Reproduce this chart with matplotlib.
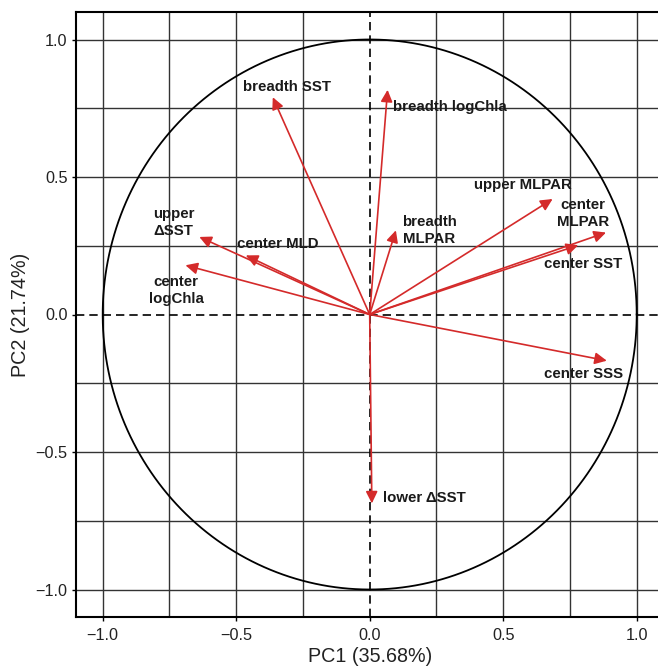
import matplotlib
matplotlib.use("Agg")
import matplotlib.pyplot as plt
import numpy as np

plt.rcParams['font.family'] = ['Liberation Sans', 'DejaVu Sans']

# Variable loadings (PC1, PC2)
variables = ["breadth SST", "breadth logChla", "upper MLPAR", "center MLPAR",
             "center SST", "breadth MLPAR", "upper ΔSST", "center MLD",
             "center logChla", "center SSS", "lower ΔSST"]
pc1 = [-0.363, 0.067, 0.685, 0.885, 0.781, 0.098, -0.638, -0.464, -0.690, 0.888, 0.008]
pc2 = [0.790, 0.817, 0.420, 0.298, 0.252, 0.306, 0.282, 0.215, 0.179, -0.168, -0.687]

# Label text and label anchor positions (data coords)
labels = ["breadth SST", "breadth logChla", "upper MLPAR", "center\nMLPAR",
          "center SST", "breadth\nMLPAR", "upper\nΔSST", "center MLD",
          "center\nlogChla", "center SSS", "lower ΔSST"]
lab_x = [-0.31, 0.30, 0.575, 0.80, 0.80, 0.223, -0.735, -0.346, -0.725, 0.80, 0.203]
lab_y = [0.826, 0.753, 0.470, 0.367, 0.185, 0.306, 0.336, 0.258, 0.088, -0.217, -0.666]

x_label = "PC1 (35.68%)"
y_label = "PC2 (21.74%)"
ticks = [-1.0, -0.5, 0.0, 0.5, 1.0]
tick_labels = ["\u22121.0", "\u22120.5", "0.0", "0.5", "1.0"]
grid_vals = [-1.0, -0.75, -0.5, -0.25, 0.25, 0.5, 0.75, 1.0]

fig = plt.figure(figsize=(6.58, 6.66), dpi=100)
ax = fig.add_axes([76/658, 49/666, 587.4/658, 605/666])
ax.set_xlim(-1.1, 1.1)
ax.set_ylim(-1.1, 1.1)

for g in grid_vals:
    ax.axvline(g, color='#333333', lw=1.0, zorder=1)
    ax.axhline(g, color='#333333', lw=1.0, zorder=1)
ax.axvline(0, color='black', lw=1.2, ls=(0, (5, 3)), zorder=1)
ax.axhline(0, color='black', lw=1.2, ls=(0, (5, 3)), zorder=1)

theta = np.linspace(0, 2*np.pi, 500)
ax.plot(np.cos(theta), np.sin(theta), color='black', lw=1.3, zorder=2)

red = '#d42a2a'
for x, y in zip(pc1, pc2):
    ax.annotate('', xy=(x, y), xytext=(0, 0),
                arrowprops=dict(arrowstyle='-|>,head_length=0.65,head_width=0.32',
                                color=red, lw=1.2, shrinkA=0, shrinkB=0,
                                mutation_scale=11), zorder=3)

for t, x, y in zip(labels, lab_x, lab_y):
    ax.text(x, y, t, ha='center', va='center', fontsize=10.8, fontweight='bold',
            color='#1a1a1a', linespacing=1.28, zorder=4)

ax.set_xticks(ticks)
ax.set_xticklabels(tick_labels)
ax.set_yticks(ticks)
ax.set_yticklabels(tick_labels)
ax.tick_params(direction='out', length=3.2, width=1.0, labelsize=11.7, pad=3,
               colors='black', labelcolor='#222222')
ax.tick_params(axis='x', pad=4.5)
for s in ['left', 'bottom', 'top']:
    ax.spines[s].set_linewidth(1.5)
ax.spines['right'].set_visible(False)

ax.set_xlabel(x_label, fontsize=14.2, color='#222222', labelpad=3)
ax.set_ylabel(y_label, fontsize=14.2, color='#222222', labelpad=4)

fig.savefig('out.png', dpi=100)
